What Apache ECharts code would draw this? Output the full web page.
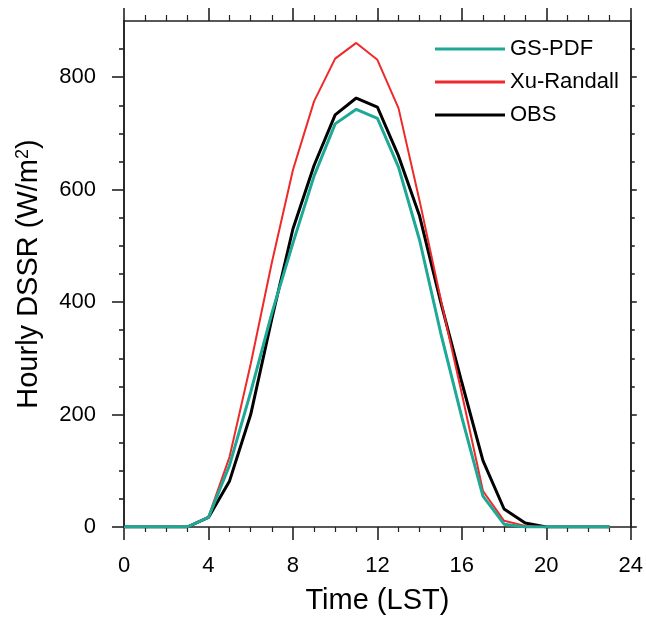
<!DOCTYPE html>
<html>
<head>
<meta charset="utf-8">
<script src="https://cdn.jsdelivr.net/npm/echarts@6/dist/echarts.min.js"></script>
<style>html,body{margin:0;padding:0;background:#fff;}#c{width:646px;height:620px;}</style>
</head>
<body>
<div id="c"></div>
<script>
var hours = [0,1,2,3,4,5,6,7,8,9,10,11,12,13,14,15,16,17,18,19,20,21,22,23];
var gsPdf = [0,0,0,0,17,110,240,380,505,624,717,743,727,640,510,345,195,55,5,0,0,0,0,0];
var xuRandall = [0,0,0,0,18,125,290,470,635,757,833,861,831,745,580,405,237,64,11,2,0,0,0,0];
var obs = [0,0,0,0,17,82,200,370,530,643,733,763,747,660,553,400,257,118,32,7,0,0,0,0];
var yMajorTicks = [0,200,400,600,800];
var yMinorTicks = [50,100,150,250,300,350,450,500,550,650,700,750,850];

function pairs(v){ return hours.map(function(h,i){ return [h, v[i]]; }); }

var FONT = '"Liberation Sans", Arial, Helvetica, sans-serif';
var AX = '#222';
var chart = echarts.init(document.getElementById('c'), null, {renderer:'canvas'});

function xAx(pos, withLabels, majorLen, minorLen){
  return {
    type:'value', position:pos, min:0, max:24, interval:4, gridIndex:0,
    axisLine:{show:true, onZero:false, lineStyle:{color:AX, width:1.6}},
    axisTick:{show:true, inside:false, length:majorLen, lineStyle:{color:AX, width:1.6}},
    minorTick:{show:true, splitNumber:4, length:minorLen, lineStyle:{color:AX, width:1.2}},
    axisLabel:{show:withLabels, margin:28, color:'#000', fontSize:22, fontFamily:FONT},
    splitLine:{show:false},
    name: withLabels ? 'Time (LST)' : '',
    nameLocation:'middle', nameGap:59,
    nameTextStyle:{color:'#000', fontSize:29, fontFamily:FONT}
  };
}
function yAx(pos, ticks, len, withLabels, name){
  return {
    type:'value', position:pos, min:0, max:900, gridIndex:0,
    axisLine:{show:true, onZero:false, lineStyle:{color:AX, width:1.6}},
    axisTick:{show:true, inside:false, length:len, customValues:ticks, lineStyle:{color:AX, width:1.6}},
    axisLabel:{show:withLabels, customValues:ticks, margin:28, color:'#000', fontSize:22, fontFamily:FONT},
    splitLine:{show:false},
    name: name || '',
    nameLocation:'middle', nameGap:80, nameRotate:90,
    nameTextStyle:{color:'#000', fontSize:29, fontFamily:FONT,
      rich:{a:{fontSize:29, fontFamily:FONT, color:'#000'}, s:{fontSize:18, fontFamily:FONT, color:'#000', verticalAlign:'top', padding:[0,0,12,0]}}}
  };
}

var option = {
  backgroundColor:'#fff',
  animation:false,
  grid:{left:124, right:15, top:21, bottom:92, containLabel:false},
  xAxis:[ xAx('bottom', true, 13, 5), xAx('top', false, 13, 6) ],
  yAxis:[
    yAx('left', yMajorTicks, 12, true, '{a|Hourly DSSR (W/m}{s|2}{a|)}'),
    yAx('left', yMinorTicks, 5, false),
    yAx('right', yMajorTicks, 6, false),
    yAx('right', yMinorTicks, 4, false)
  ],
  legend:{
    orient:'vertical', left:430, top:33, itemWidth:70, itemHeight:3, itemGap:11, icon:'rect',
    textStyle:{color:'#000', fontSize:22, fontFamily:FONT, lineHeight:22},
    data:['GS-PDF','Xu-Randall','OBS']
  },
  series:[
    {name:'GS-PDF', type:'line', xAxisIndex:0, yAxisIndex:0, data:pairs(gsPdf), symbol:'none', color:'#1ea896', lineStyle:{color:'#1ea896', width:3}, z:3},
    {name:'Xu-Randall', type:'line', xAxisIndex:0, yAxisIndex:0, data:pairs(xuRandall), symbol:'none', color:'#ee2a2a', lineStyle:{color:'#ee2a2a', width:2}, z:2},
    {name:'OBS', type:'line', xAxisIndex:0, yAxisIndex:0, data:pairs(obs), symbol:'none', color:'#000', lineStyle:{color:'#000', width:3}, z:1}
  ]
};
chart.setOption(option);
</script>
</body>
</html>
